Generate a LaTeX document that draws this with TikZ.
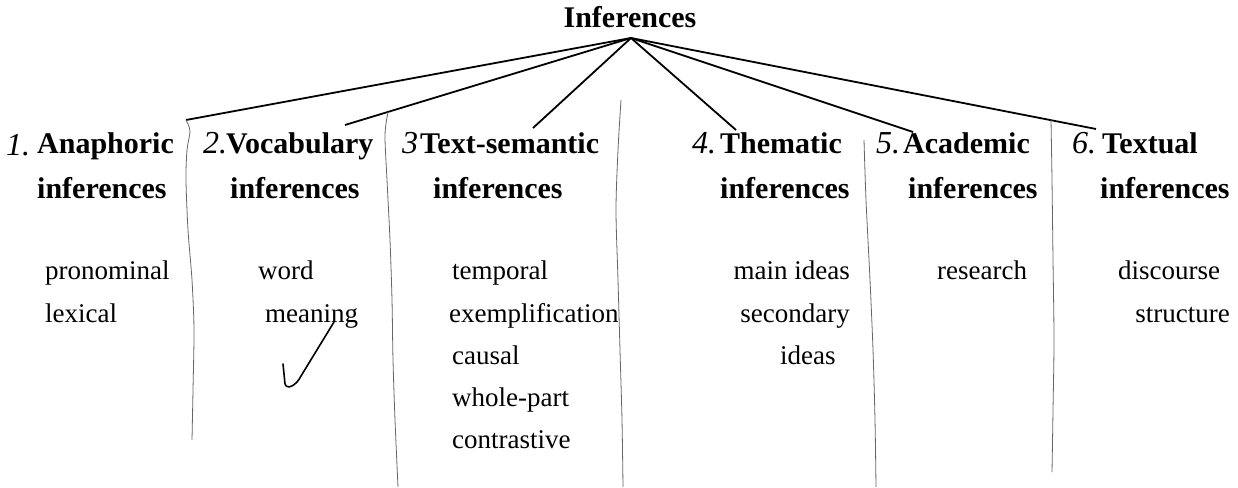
\documentclass[tikz,border=0pt]{standalone}
\usepackage{fontspec}
\setmainfont{Liberation Serif}
\begin{document}
\begin{tikzpicture}[x=1pt,y=-1pt,
  head/.style={font=\fontsize{30}{30}\selectfont\bfseries, inner sep=0pt, anchor=base west},
  body/.style={font=\fontsize{27}{27}\selectfont, inner sep=0pt, anchor=base west},
  bodyr/.style={body, anchor=base east},
  num/.style={font=\fontsize{32}{32}\selectfont\itshape, inner sep=0pt, anchor=base west},
  link/.style={line width=1.8pt},
  divider/.style={line width=0.8pt, black!60},
  tick/.style={line width=1.6pt, line cap=round, line join=round}]
\useasboundingbox (0,0) rectangle (1238,487);
\fill[white] (0,0) rectangle (1238,487);

% title
\node[head, anchor=base] (title) at (630,28) {Inferences};
\coordinate (apex) at (631,38);

% line ends
\coordinate (e1) at (186,120);
\coordinate (e2) at (345,125);
\coordinate (e3) at (533,128);
\coordinate (e4) at (736,130);
\coordinate (e5) at (913,132);
\coordinate (e6) at (1096,129);

\foreach \e in {e1,e2,e3,e4,e5,e6} \draw[link] (apex) -- (\e);

% dividers
\draw[divider] plot[smooth] coordinates {(186,120) (190,131) (187,150) (186,180) (188,230) (192,280) (194,330) (193,390) (192,440)};
\draw[divider] plot[smooth] coordinates {(388,112) (385,135) (387,180) (390,240) (392,300) (393,360) (395,420) (398,487)};
\draw[divider] plot[smooth] coordinates {(621,100) (618,150) (616,210) (618,280) (620,350) (622,420) (623,487)};
\draw[divider] plot[smooth] coordinates {(864,140) (866,200) (870,280) (873,350) (875,420) (876,487)};
\draw[divider] plot[smooth] coordinates {(1051,120) (1052,180) (1053,260) (1054,340) (1053,410) (1052,472)};

% column 1
\node[num] (n1) at (6,155) {1.};
\node[head] (h1) at (37,153) {Anaphoric};
\node[head] (h1b) at (37,198) {inferences};
\node[body] (b1a) at (45,279) {pronominal};
\node[body] (b1b) at (45,322) {lexical};

% column 2
\node[num] (n2) at (203,153) {2.};
\node[head] (h2) at (226,153) {Vocabulary};
\node[head] (h2b) at (230,198) {inferences};
\node[body] (b2a) at (258,279) {word};
\node[body] (b2b) at (265,322) {meaning};
\draw[tick] (283,364) -- (285,384) .. controls (287,390) and (296,386) .. (301,376) -- (334,322);

% column 3
\node[num] (n3) at (402,153) {3};
\node[head] (h3) at (420,153) {Text-semantic};
\node[head] (h3b) at (433,198) {inferences};
\node[body] (b3a) at (452,279) {temporal};
\node[body] (b3b) at (449,322) {exemplification};
\node[body] (b3c) at (452,364) {causal};
\node[body] (b3d) at (452,406) {whole-part};
\node[body] (b3e) at (452,448) {contrastive};

% column 4
\node[num] (n4) at (692,153) {4.};
\node[head] (h4) at (720,153) {Thematic};
\node[head] (h4b) at (720,198) {inferences};
\node[bodyr] (b4a) at (850,279) {main ideas};
\node[bodyr] (b4b) at (850,322) {secondary};
\node[body] (b4c) at (780,364) {ideas};

% column 5
\node[num] (n5) at (876,153) {5.};
\node[head] (h5) at (903,153) {Academic};
\node[head] (h5b) at (908,198) {inferences};
\node[body] (b5a) at (937,279) {research};

% column 6
\node[num] (n6) at (1072,153) {6.};
\node[head] (h6) at (1102,153) {Textual};
\node[head] (h6b) at (1100,198) {inferences};
\node[body] (b6a) at (1118,279) {discourse};
\node[bodyr] (b6b) at (1230,322) {structure};
\end{tikzpicture}
\end{document}
